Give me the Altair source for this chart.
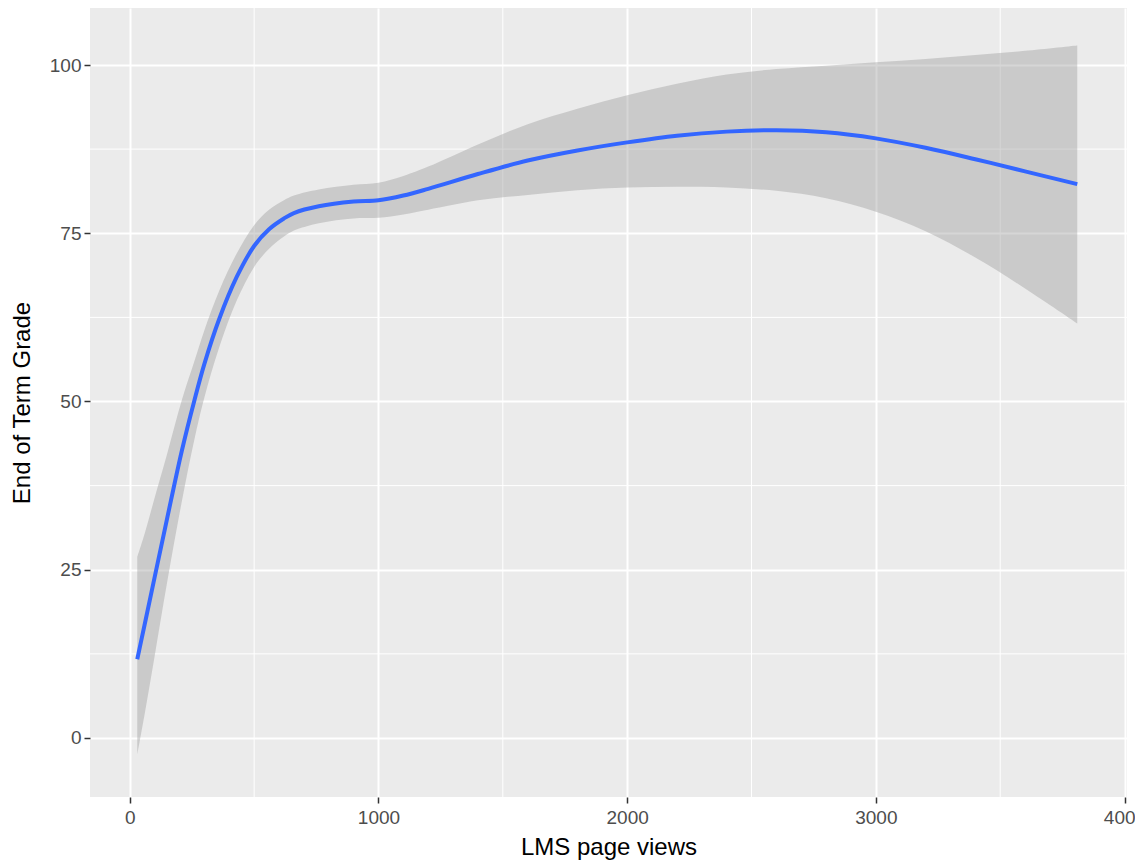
import altair as alt
import pandas as pd

# ---- data ----
page_views = [30, 60, 100, 150, 210, 260, 300, 360, 430, 500, 560, 620, 660, 760, 900,
              1000, 1100, 1200, 1400, 1600, 1800, 2000, 2200, 2400, 2600, 2800, 3000,
              3200, 3400, 3600, 3810]
grade_fit = [11.7, 16.9, 23.9, 32.6, 42.8, 50.2, 55.6, 62.3, 68.5, 73.1, 75.6, 77.2, 78.0,
             79.0, 79.7, 79.9, 80.6, 81.6, 83.8, 85.8, 87.3, 88.5, 89.5, 90.1, 90.3, 90.0,
             89.1, 87.7, 86.0, 84.2, 82.3]
grade_lo = [-2.5, 3.6, 12.2, 23.1, 35.3, 44.4, 50.6, 58.1, 65.0, 70.0, 72.7, 74.5, 75.4,
            76.5, 77.2, 77.3, 77.8, 78.5, 79.9, 80.7, 81.4, 81.8, 81.9, 81.8, 81.3, 80.2,
            78.2, 75.3, 71.4, 66.8, 61.6]
grade_hi = [26.9, 30.4, 35.7, 42.2, 50.3, 56.0, 60.6, 66.5, 72.0, 76.2, 78.5, 79.9, 80.6,
            81.5, 82.2, 82.5, 83.5, 84.9, 88.2, 91.2, 93.5, 95.5, 97.2, 98.6, 99.4, 99.9,
            100.4, 100.9, 101.5, 102.1, 102.9]

x_major = [0, 1000, 2000, 3000, 4000]
x_minor = [500, 1500, 2500, 3500]
y_major = [0, 25, 50, 75, 100]
y_minor = [12.5, 37.5, 62.5, 87.5]

df = pd.DataFrame({"x": page_views, "fit": grade_fit, "lo": grade_lo, "hi": grade_hi})
df_xminor = pd.DataFrame({"x": x_minor})
df_yminor = pd.DataFrame({"y": y_minor})

FONT = "Liberation Sans"

xscale = alt.Scale(domain=[-160, 4010], nice=False, zero=False)
yscale = alt.Scale(domain=[-8.77, 108.47], nice=False, zero=False)

common = dict(
    format="d", grid=True, gridColor="white", gridWidth=2, domain=False,
    tickColor="#333333", tickSize=6, tickWidth=1.5, labelColor="#4D4D4D",
    labelFontSize=19, labelFlush=False, labelOverlap=False, labelFont=FONT,
    titleFont=FONT, titleFontSize=24, titleColor="black", titleFontWeight="normal",
)
xaxis = alt.Axis(title="LMS page views", values=x_major, labelPadding=5,
                 titlePadding=8, **common)
yaxis = alt.Axis(title="End of Term Grade", values=y_major, labelPadding=3,
                 titlePadding=15, **common)

X = alt.X("x:Q", scale=xscale, axis=xaxis)
Y = alt.Y("fit:Q", scale=yscale, axis=yaxis)

minor_x = alt.Chart(df_xminor).mark_rule(color="white", strokeWidth=1).encode(
    x=X
)
minor_y = alt.Chart(df_yminor).mark_rule(color="white", strokeWidth=1).encode(
    y=alt.Y("y:Q", scale=yscale, axis=yaxis)
)

band = alt.Chart(df).mark_area(color="#999999", opacity=0.4,
                               interpolate="catmull-rom").encode(
    x=X,
    y=alt.Y("lo:Q", scale=yscale, axis=yaxis),
    y2="hi:Q",
)

line = alt.Chart(df).mark_line(color="#3366FF", strokeWidth=4,
                               interpolate="catmull-rom").encode(
    x=X,
    y=Y,
)

chart = alt.layer(minor_x, minor_y, band, line).properties(
    width=1037,
    height=789,
    autosize=alt.AutoSizeParams(type="none"),
    padding={"left": 82, "top": 0, "right": 8, "bottom": 64},
    background="white",
).configure_view(
    fill="#EBEBEB", stroke=None
)

chart.save("out.html", embed_options={"renderer": "svg", "actions": False})
